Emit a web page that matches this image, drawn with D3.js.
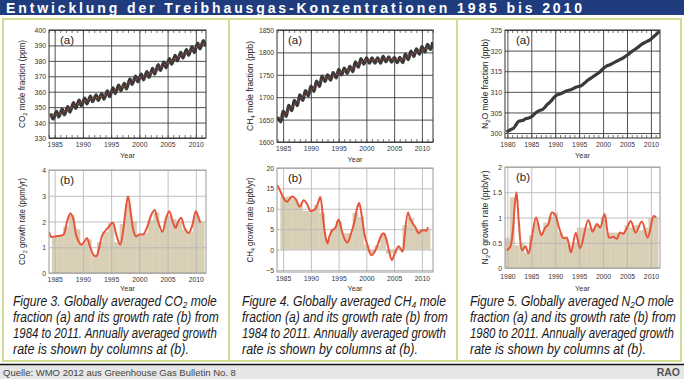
<!DOCTYPE html>
<html><head><meta charset="utf-8">
<script src="https://cdn.jsdelivr.net/npm/d3@7"></script>
<style>
body{margin:0;background:#fff;}
svg{display:block;font-family:"Liberation Sans",Arial,Helvetica,sans-serif;}
</style></head><body>
<svg id="c" width="684" height="379"></svg>
<script>
// ---------------- DATA ----------------
const titleText = "Entwicklung der Treibhausgas-Konzentrationen 1985 bis 2010";
const sourceText = "Quelle: WMO 2012 aus Greenhouse Gas Bulletin No. 8";
const logoText = "RAO";

// CO2 (a): yearly seasonal highs/lows and de-seasonalised trend (ppm)
const co2Years = d3.range(1984, 2012);
const co2High = [346.0,347.3,348.7,350.4,352.9,354.6,355.8,357.2,358.0,358.8,360.5,362.5,364.3,365.5,368.4,370.1,371.4,373.0,375.1,377.5,379.2,381.5,383.6,385.5,387.3,389.1,391.5,393.1];
const co2Low  = [342.3,343.6,345.0,346.7,349.2,350.9,352.1,353.5,354.3,355.1,356.8,358.8,360.6,361.8,364.7,366.4,367.7,369.3,371.4,373.8,375.5,377.8,379.9,381.8,383.6,385.4,387.8,389.4];
const co2Trend = [344.2,345.5,346.9,348.6,351.1,352.8,354.0,355.4,356.2,357.0,358.7,360.7,362.5,363.7,366.6,368.3,369.6,371.2,373.3,375.7,377.4,379.7,381.8,383.7,385.5,387.3,389.7,391.3];
// CO2 (b): growth rate curve [year, ppm/yr] and annual columns
const co2Growth = [[1984.0,1.6],[1984.4,1.4],[1985.2,1.43],[1986.0,1.45],[1986.6,1.5],[1987.2,2.0],[1987.8,2.32],[1988.3,2.1],[1988.9,1.4],[1989.7,1.1],[1990.2,1.2],[1990.7,1.36],[1991.3,1.0],[1991.9,0.7],[1992.4,0.66],[1992.9,1.0],[1993.5,1.5],[1994.3,1.72],[1995.3,1.95],[1995.9,1.5],[1996.6,1.1],[1997.1,1.6],[1997.6,2.5],[1998.0,2.98],[1998.5,2.3],[1999.0,1.6],[1999.4,1.42],[2000.0,1.5],[2000.7,1.5],[2001.4,1.8],[2002.2,2.3],[2002.7,2.45],[2003.3,2.0],[2004.1,1.6],[2004.7,2.1],[2005.3,2.4],[2005.9,2.0],[2006.4,1.75],[2006.9,2.0],[2007.4,2.15],[2008.0,1.75],[2008.7,1.55],[2009.3,1.8],[2010.0,2.4],[2010.4,2.2],[2010.8,1.95]];
const co2BarYears = d3.range(1985, 2012);
const co2Bars = [1.4,1.45,1.8,2.25,1.7,1.15,1.3,0.7,1.2,1.6,1.95,1.2,1.9,2.7,2.0,1.5,1.55,2.05,2.35,1.65,2.2,2.1,2.0,1.7,1.6,2.2,2.0];

// CH4 (a) (ppb)
const ch4Years = d3.range(1984, 2012);
const ch4High = [1656,1669,1682,1693,1705,1715,1725,1736,1747,1750,1755,1762,1765,1769,1779,1786,1788,1788,1788,1791,1790,1789,1789,1796,1803,1808,1813,1818];
const ch4Low  = [1645,1657,1670,1681,1693,1703,1713,1724,1735,1738,1743,1750,1753,1757,1767,1774,1776,1776,1776,1779,1778,1777,1777,1784,1791,1796,1801,1806];
const ch4Trend = [1652,1664,1677,1688,1700,1710,1720,1731,1742,1745,1750,1757,1760,1764,1774,1781,1783,1783,1783,1786,1785,1784,1784,1791,1798,1803,1808,1813];
const ch4Last = [2011.95, 1823];
// CH4 (b)
const ch4Growth = [[1984.0,15.7],[1984.6,14.0],[1985.2,12.3],[1985.7,11.7],[1986.1,12.3],[1986.6,13.0],[1987.2,12.5],[1988.0,10.5],[1988.7,12.1],[1989.3,11.2],[1989.9,9.5],[1990.4,9.6],[1990.8,9.9],[1991.3,11.5],[1991.7,12.9],[1992.1,9.0],[1992.6,3.5],[1993.0,1.5],[1993.4,3.5],[1993.9,4.8],[1994.4,5.3],[1995.0,7.4],[1995.6,4.5],[1996.1,2.5],[1996.6,1.7],[1997.2,3.8],[1997.8,6.5],[1998.3,10.0],[1998.7,11.4],[1999.2,8.0],[1999.7,3.5],[2000.2,1.0],[2000.9,-1.4],[2001.5,-0.5],[2002.0,1.0],[2002.6,3.2],[2003.1,4.0],[2003.6,2.5],[2004.1,-0.5],[2004.6,-2.6],[2005.1,-1.0],[2005.8,0.8],[2006.5,-0.5],[2006.9,3.5],[2007.5,9.1],[2007.9,7.5],[2008.3,6.5],[2008.8,5.5],[2009.4,4.0],[2009.9,4.6],[2010.4,4.8],[2010.8,4.6],[2011.1,5.5]];
const ch4BarYears = d3.range(1985, 2012);
const ch4Bars = [13,13,12.5,11,9.5,9.5,11,9,2.5,5,7,4,4,9,8,1.2,-1,1,4,-1,-1,0.5,6,7.8,5,5,5];

// N2O (a) [year, ppb]
const n2oSeries = [[1979.8,300.3],[1980.3,300.6],[1980.8,300.9],[1981.3,301.2],[1981.8,302.0],[1982.3,302.8],[1982.8,303.0],[1983.3,303.1],[1983.8,303.5],[1984.3,303.6],[1984.8,303.8],[1985.3,304.2],[1985.8,304.8],[1986.3,305.2],[1986.8,305.5],[1987.3,305.7],[1987.8,306.2],[1988.3,306.9],[1988.8,307.4],[1989.3,308.0],[1989.8,308.7],[1990.3,309.2],[1990.8,309.4],[1991.3,309.6],[1991.8,309.9],[1992.3,310.2],[1992.8,310.4],[1993.3,310.5],[1993.8,310.8],[1994.3,311.1],[1994.8,311.3],[1995.3,311.4],[1995.8,311.8],[1996.3,312.3],[1996.8,312.8],[1997.3,313.2],[1997.8,313.6],[1998.3,314.0],[1998.8,314.4],[1999.3,314.8],[1999.8,315.4],[2000.3,315.9],[2000.8,316.3],[2001.3,316.5],[2001.8,316.8],[2002.3,317.1],[2002.8,317.4],[2003.3,317.7],[2003.8,318.0],[2004.3,318.3],[2004.8,318.7],[2005.3,319.1],[2005.8,319.6],[2006.3,320.0],[2006.8,320.4],[2007.3,320.8],[2007.8,321.3],[2008.3,321.7],[2008.8,322.0],[2009.3,322.3],[2009.8,322.6],[2010.3,323.1],[2010.8,323.6],[2011.3,324.1],[2011.8,324.7]];
// N2O (b)
const n2oGrowth = [[1979.9,0.35],[1980.6,0.42],[1981.1,0.7],[1981.55,1.25],[1981.9,1.5],[1982.4,0.9],[1983.1,0.35],[1983.75,0.43],[1984.4,0.29],[1985.1,0.6],[1986.0,1.0],[1987.1,0.65],[1987.9,0.8],[1988.5,0.85],[1989.3,1.1],[1990.0,1.05],[1990.8,0.8],[1991.7,0.59],[1992.4,0.6],[1993.3,0.31],[1994.3,0.7],[1995.2,0.39],[1996.9,0.95],[1997.8,0.72],[1998.7,0.87],[1999.4,0.8],[2000.3,1.07],[2001.3,0.6],[2002.1,0.62],[2002.9,0.58],[2003.5,0.7],[2004.2,0.68],[2004.9,0.78],[2005.8,0.93],[2006.8,0.7],[2008.1,0.92],[2009.3,0.6],[2010.6,1.03],[2011.1,1.0]];
const n2oBarYears = d3.range(1980, 2012);
const n2oBars = [0.6,1.4,0.45,0.5,0.3,0.65,0.9,0.7,0.9,1.0,1.1,0.7,0.6,0.45,0.5,0.8,0.8,0.8,0.8,0.85,1.0,0.7,0.7,0.7,0.7,0.85,0.8,0.85,0.75,0.8,1.0,1.0];

// tick values
const yearTicks8590 = [1985,1990,1995,2000,2005,2010];
const yearTicks80 = [1980,1985,1990,1995,2000,2005,2010];
const co2ATicks = [330,340,350,360,370,380,390,400];
const ch4ATicks = [1600,1650,1700,1750,1800,1850];
const n2oATicks = [300,305,310,315,320,325];
const co2BTicks = [0,1,2,3,4];
const ch4BTicks = [-5,0,5,10,15,20];
const n2oBTicks = [0,0.5,1,1.5,2];

const captions = [
  ["Figure 3. Globally averaged CO\u2082 mole","fraction (a) and its growth rate (b) from","1984 to 2011. Annually averaged growth","rate is shown by columns at (b)."],
  ["Figure 4. Globally averaged CH\u2084 mole","fraction (a) and its growth rate (b) from","1984 to 2011. Annually averaged growth","rate is shown by columns at (b)."],
  ["Figure 5. Globally averaged N\u2082O mole","fraction (a) and its growth rate (b) from","1980 to 2011. Annually averaged growth","rate is shown by columns at (b)."]
];

// ---------------- DRAW ----------------
const svg = d3.select("#c");
function cond(sel,k){ sel.each(function(){ const w=this.getComputedTextLength(); if(w>0){ this.setAttribute("textLength",(w*k).toFixed(1)); this.setAttribute("lengthAdjust","spacingAndGlyphs"); } }); }

svg.append("rect").attr("x",0).attr("y",0).attr("width",684).attr("height",15).attr("fill","#1f3d7e");
svg.append("text").attr("x",6).attr("y",12.5).attr("fill","#fff").attr("font-size",14).attr("font-weight","bold")
  .attr("textLength",576).attr("lengthAdjust","spacing").text(titleText);

const frameCol = "#cfdc94";
svg.append("rect").attr("x",3).attr("y",19).attr("width",678).attr("height",342).attr("fill","#fff").attr("stroke",frameCol).attr("stroke-width",2);
[229,457].forEach(x=>svg.append("line").attr("x1",x).attr("x2",x).attr("y1",19).attr("y2",361).attr("stroke",frameCol).attr("stroke-width",2));

svg.append("rect").attr("x",0).attr("y",365).attr("width",684).attr("height",14).attr("fill","#e6e6e6");
svg.append("line").attr("x1",0).attr("x2",684).attr("y1",364.5).attr("y2",364.5).attr("stroke","#111").attr("stroke-width",1.5);
svg.append("text").attr("x",3).attr("y",375.5).attr("font-size",9.5).attr("fill","#444").text(sourceText);
svg.append("text").attr("x",680).attr("y",376).attr("text-anchor","end").attr("font-size",10.5).attr("font-weight","bold").attr("fill","#555").text(logoText);

let clipId = 0;
function yTitle(g, x, cy, parts, len){
  const t = g.append("text").attr("transform",`translate(${x},${cy}) rotate(-90)`).attr("text-anchor","middle")
    .attr("font-size",8.5).attr("fill","#222");
  parts.forEach((p,i)=>{ const s=t.append("tspan").text(p[0]); if(p[1]){ s.attr("font-size",6).attr("dy",2); } else if(i>0){ s.attr("dy",-2);} });
  t.attr("textLength",len).attr("lengthAdjust","spacingAndGlyphs");
}

function chart(cfg){
  const g = svg.append("g");
  const x = d3.scaleLinear().domain(cfg.xdom).range([cfg.x0,cfg.x1]);
  const y = d3.scaleLinear().domain(cfg.ydom).range([cfg.y1,cfg.y0]);
  const w = cfg.x1-cfg.x0, h = cfg.y1-cfg.y0;
  const id = "clip"+(clipId++);
  g.append("clipPath").attr("id",id).append("rect").attr("x",cfg.x0).attr("y",cfg.y0).attr("width",w).attr("height",h);
  const isA = cfg.kind==="a";
  const gridCol = isA ? "#3d3d3d" : "#b8b8b8";

  if(!isA){
    g.append("g").attr("clip-path",`url(#${id})`).selectAll("rect").data(cfg.barYears).join("rect")
      .attr("x",d=>x(d-0.5)).attr("width",d=>x(d+0.5)-x(d-0.5)+0.3)
      .attr("y",(d,i)=>Math.min(y(cfg.bars[i]),y(0))).attr("height",(d,i)=>Math.abs(y(cfg.bars[i])-y(0)))
      .attr("fill","#d9cfb6");
  }
  const gx = g.append("g").attr("transform",`translate(0,${cfg.y1})`)
    .call(d3.axisBottom(x).tickValues(cfg.xticks).tickSize(-h).tickFormat(""));
  gx.select(".domain").remove(); gx.selectAll("line").attr("stroke",gridCol).attr("stroke-width",0.9);
  const gy = g.append("g").attr("transform",`translate(${cfg.x0},0)`)
    .call(d3.axisLeft(y).tickValues(cfg.yticks).tickSize(-w).tickFormat(""));
  gy.select(".domain").remove(); gy.selectAll("line").attr("stroke",gridCol).attr("stroke-width",0.9);

  const line = d3.line().x(d=>x(d[0])).y(d=>y(d[1])).curve(d3.curveCatmullRom.alpha(0.5));
  const dg = g.append("g").attr("clip-path",`url(#${id})`);
  if(isA){
    const minor = d3.range(Math.ceil(cfg.xdom[0]), Math.floor(cfg.xdom[1])+1);
    const mb = g.append("g").attr("transform",`translate(0,${cfg.y1})`).call(d3.axisBottom(x).tickValues(minor).tickSize(-3).tickFormat(""));
    const mt = g.append("g").attr("transform",`translate(0,${cfg.y0})`).call(d3.axisTop(x).tickValues(minor).tickSize(-3).tickFormat(""));
    [mb,mt].forEach(a=>{a.select(".domain").remove(); a.selectAll("line").attr("stroke","#3d3d3d").attr("stroke-width",0.7);});
    dg.append("path").datum(cfg.series).attr("d",line).attr("fill","none").attr("stroke","#3a3a3a").attr("stroke-width",3.2).attr("stroke-linejoin","round");
    if(cfg.trend){
      dg.append("path").datum(cfg.trend).attr("d",line).attr("fill","none").attr("stroke","#d9452b").attr("stroke-width",1).attr("stroke-dasharray","2,2").attr("opacity",0.9);
    }
  } else {
    dg.append("path").datum(cfg.series).attr("d",line).attr("fill","none").attr("stroke","#e8553a").attr("stroke-width",2);
  }
  g.append("rect").attr("x",cfg.x0).attr("y",cfg.y0).attr("width",w).attr("height",h).attr("fill","none")
    .attr("stroke",isA?"#333":"#999").attr("stroke-width",1);

  const lx = g.append("g").attr("transform",`translate(0,${cfg.y1})`)
    .call(d3.axisBottom(x).tickValues(cfg.xticks).tickSize(0).tickPadding(cfg.xpad||3).tickFormat(d3.format("d")));
  lx.select(".domain").remove();
  lx.selectAll("text").attr("font-size",8).attr("fill","#333").call(cond,0.85);
  const ly = g.append("g").attr("transform",`translate(${cfg.x0},0)`)
    .call(d3.axisLeft(y).tickValues(cfg.yticks).tickSize(0).tickPadding(3).tickFormat(cfg.yfmt||d3.format("d")));
  ly.select(".domain").remove();
  ly.selectAll("text").attr("font-size",8).attr("fill","#333").call(cond,0.85);
  const yl = g.append("text").attr("x",(cfg.x0+cfg.x1)/2).attr("y",isA?cfg.y1+20:291).attr("text-anchor","middle").attr("font-size",8).attr("fill","#333").text("Year");
  cond(yl,0.92);
  g.append("text").attr("x",cfg.x0+11).attr("y",cfg.y0+14).attr("font-size",11.5).attr("fill","#222").text(isA?"(a)":"(b)");
  yTitle(g, cfg.titleX, (cfg.y0+cfg.y1)/2, cfg.title, cfg.titleLen);
}

function seasonal(years, hi, lo, phHi, phLo){
  return years.flatMap((yr,i)=> phHi<phLo ? [[yr+phHi,hi[i]],[yr+phLo,lo[i]]] : [[yr+phLo,lo[i]],[yr+phHi,hi[i]]]);
}

chart({kind:"a", x0:49,x1:206,y0:30,y1:138, xdom:[1984,2011.8], ydom:[330,400], xticks:yearTicks8590, yticks:co2ATicks,
  series: seasonal(co2Years,co2High,co2Low,0.33,0.72), trend: co2Years.map((yr,i)=>[yr+0.5,co2Trend[i]]),
  titleX:25, title:[["CO"],["2",1],[" mole fraction (ppm)"]], titleLen:88});
chart({kind:"b", x0:49,x1:206,y0:170,y1:273, xdom:[1984,2011.8], ydom:[0,4], xticks:yearTicks8590, yticks:co2BTicks,
  series: co2Growth, barYears: co2BarYears, bars: co2Bars,
  titleX:25, title:[["CO"],["2",1],[" growth rate (ppm/yr)"]], titleLen:87});
chart({kind:"a", x0:277,x1:433,y0:30,y1:142, xdom:[1983.9,2012], ydom:[1600,1850], xticks:yearTicks8590, yticks:ch4ATicks,
  series: seasonal(ch4Years,ch4High,ch4Low,0.02,0.55).concat([ch4Last]), trend: ch4Years.map((yr,i)=>[yr+0.5,ch4Trend[i]]),
  titleX:253, title:[["CH"],["4",1],[" mole fraction (ppb)"]], titleLen:90});
chart({kind:"b", x0:277,x1:433,y0:168,y1:272, xdom:[1983.9,2012], ydom:[-5.5,20], xticks:yearTicks8590, yticks:ch4BTicks,
  series: ch4Growth, barYears: ch4BarYears, bars: ch4Bars,
  titleX:253, title:[["CH"],["4",1],[" growth rate (ppb/yr)"]], titleLen:85});
chart({kind:"a", x0:505,x1:660,y0:30,y1:138, xdom:[1979.5,2011.9], ydom:[298.8,325], xticks:yearTicks80, yticks:n2oATicks,
  series: n2oSeries,
  titleX:488, title:[["N"],["2",1],["O mole fraction (ppb)"]], titleLen:90});
chart({kind:"b", x0:505,x1:660,y0:167,y1:268, xdom:[1979.5,2011.9], ydom:[0,2], xticks:yearTicks80, yticks:n2oBTicks,
  yfmt: d=>String(d), xpad: 5,
  series: n2oGrowth, barYears: n2oBarYears, bars: n2oBars,
  titleX:488, title:[["N"],["2",1],["O growth rate (ppb/yr)"]], titleLen:94});

// captions: italic lines, condensed with a horizontal scale transform to fixed widths
const capX = [13, 242, 470];
const capY = [305.5, 321.5, 337.5, 353.5];
const capLen = [204, 206, 204, 176];
captions.forEach((lines,pi)=>{
  lines.forEach((txt,li)=>{
    const t = svg.append("text").attr("font-size",14).attr("font-style","italic").attr("fill","#1a1a1a").text(txt);
    const nat = t.node().getComputedTextLength();
    t.attr("transform",`translate(${capX[pi]},${capY[li]}) scale(${(capLen[li]/nat).toFixed(4)},1)`);
  });
});
</script></body></html>
